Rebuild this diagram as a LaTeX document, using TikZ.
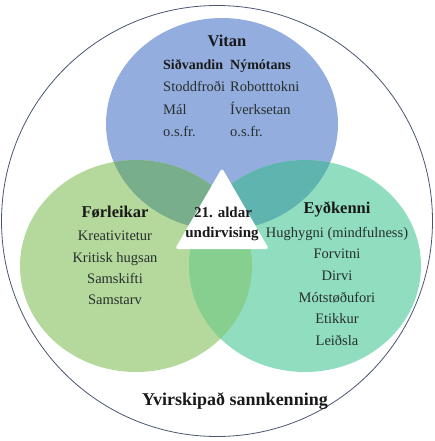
\documentclass[tikz,border=0pt]{standalone}
\usepackage{fontspec}
\setmainfont{Liberation Serif}
\definecolor{cblue}{HTML}{94ADDF}
\definecolor{cgreen}{HTML}{B5D99C}
\definecolor{cteal}{HTML}{90DDC0}
\definecolor{cbg}{HTML}{78AE8C}
\definecolor{cbt}{HTML}{5FB4B0}
\definecolor{cgt}{HTML}{86CF8E}
\definecolor{ctri}{HTML}{6AB59A}
\definecolor{ring}{HTML}{4A5570}
\definecolor{bodytext}{HTML}{26302D}
\tikzset{
  body/.style={inner sep=0pt, text=bodytext, font=\fontsize{14.5}{16}\selectfont},
  head/.style={inner sep=0pt, text=black!90, font=\fontsize{16.5}{18}\selectfont\bfseries},
  big/.style={inner sep=0pt, text=black!90, font=\fontsize{18}{20}\selectfont\bfseries},
  mid/.style={inner sep=0pt, text=black!90, font=\fontsize{15}{17}\selectfont\bfseries},
  sub/.style={inner sep=0pt, text=black!90, font=\fontsize{14}{16}\selectfont\bfseries},
}
\begin{document}
\begin{tikzpicture}[x=1pt,y=-1pt]
\useasboundingbox (0,0) rectangle (435,441);
% ellipses
\def\rx{116pt}\def\ry{106pt}
\fill[cblue] (222,124) ellipse [x radius=\rx, y radius=\ry];
\fill[cgreen] (136,266) ellipse [x radius=\rx, y radius=\ry];
\fill[cteal] (305,266) ellipse [x radius=\rx, y radius=\ry];
\begin{scope}
  \clip (222,124) ellipse [x radius=\rx, y radius=\ry];
  \fill[cbg] (136,266) ellipse [x radius=\rx, y radius=\ry];
  \fill[cbt] (305,266) ellipse [x radius=\rx, y radius=\ry];
\end{scope}
\begin{scope}
  \clip (136,266) ellipse [x radius=\rx, y radius=\ry];
  \fill[cgt] (305,266) ellipse [x radius=\rx, y radius=\ry];
  \clip (305,266) ellipse [x radius=\rx, y radius=\ry];
  \fill[ctri] (222,124) ellipse [x radius=\rx, y radius=\ry];
\end{scope}
% outer ring
\draw[ring, line width=0.8pt] (217,221) circle [radius=215.5pt];
% triangle
\coordinate (tA) at (222,168);
\coordinate (tB) at (175,249);
\coordinate (tC) at (269,249);
\fill[white, rounded corners=3pt] (tA) -- (tB) -- (tC) -- cycle;
% top
\node[head, anchor=base] (vitan) at (227,47) {Vitan};
\node[sub, anchor=base west] (sid) at (163,70) {Siðvandin};
\node[sub, anchor=base west] (nym) at (230,70) {Nýmótans};
\node[body, anchor=base west] (l1) at (163,92) {Stoddfroði};
\node[body, anchor=base west] (r1) at (230,92) {Robotttokni};
\node[body, anchor=base west] (l2) at (163,114) {Mál};
\node[body, anchor=base west] (r2) at (230,114) {Íverksetan};
\node[body, anchor=base west] (l3) at (163,136) {o.s.fr.};
\node[body, anchor=base west] (r3) at (230,136) {o.s.fr.};
% left
\node[head, anchor=base] (forl) at (115,217) {Førleikar};
\node[body, anchor=base] (f1) at (115,240) {Kreativitetur};
\node[body, anchor=base] (f2) at (115,262) {Kritisk hugsan};
\node[body, anchor=base] (f3) at (115,283) {Samskifti};
\node[body, anchor=base] (f4) at (115,304) {Samstarv};
% right
\node[head, anchor=base] (eyd) at (337,213) {Eyðkenni};
\node[body, anchor=base] (e1) at (337,237) {Hughygni (mindfulness)};
\node[body, anchor=base] (e2) at (337,258) {Forvitni};
\node[body, anchor=base] (e3) at (337,280) {Dirvi};
\node[body, anchor=base] (e4) at (337,302) {Mótstøðufori};
\node[body, anchor=base] (e5) at (337,323) {Etikkur};
\node[body, anchor=base] (e6) at (337,345) {Leiðsla};
% centre
\node[mid, anchor=base] (c1) at (223,217) {21. aldar};
\node[mid, anchor=base] (c2) at (222,237) {undirvising};
% bottom
\node[big, anchor=base] (yv) at (235,405) {Yvirskipað sannkenning};
\end{tikzpicture}
\end{document}
